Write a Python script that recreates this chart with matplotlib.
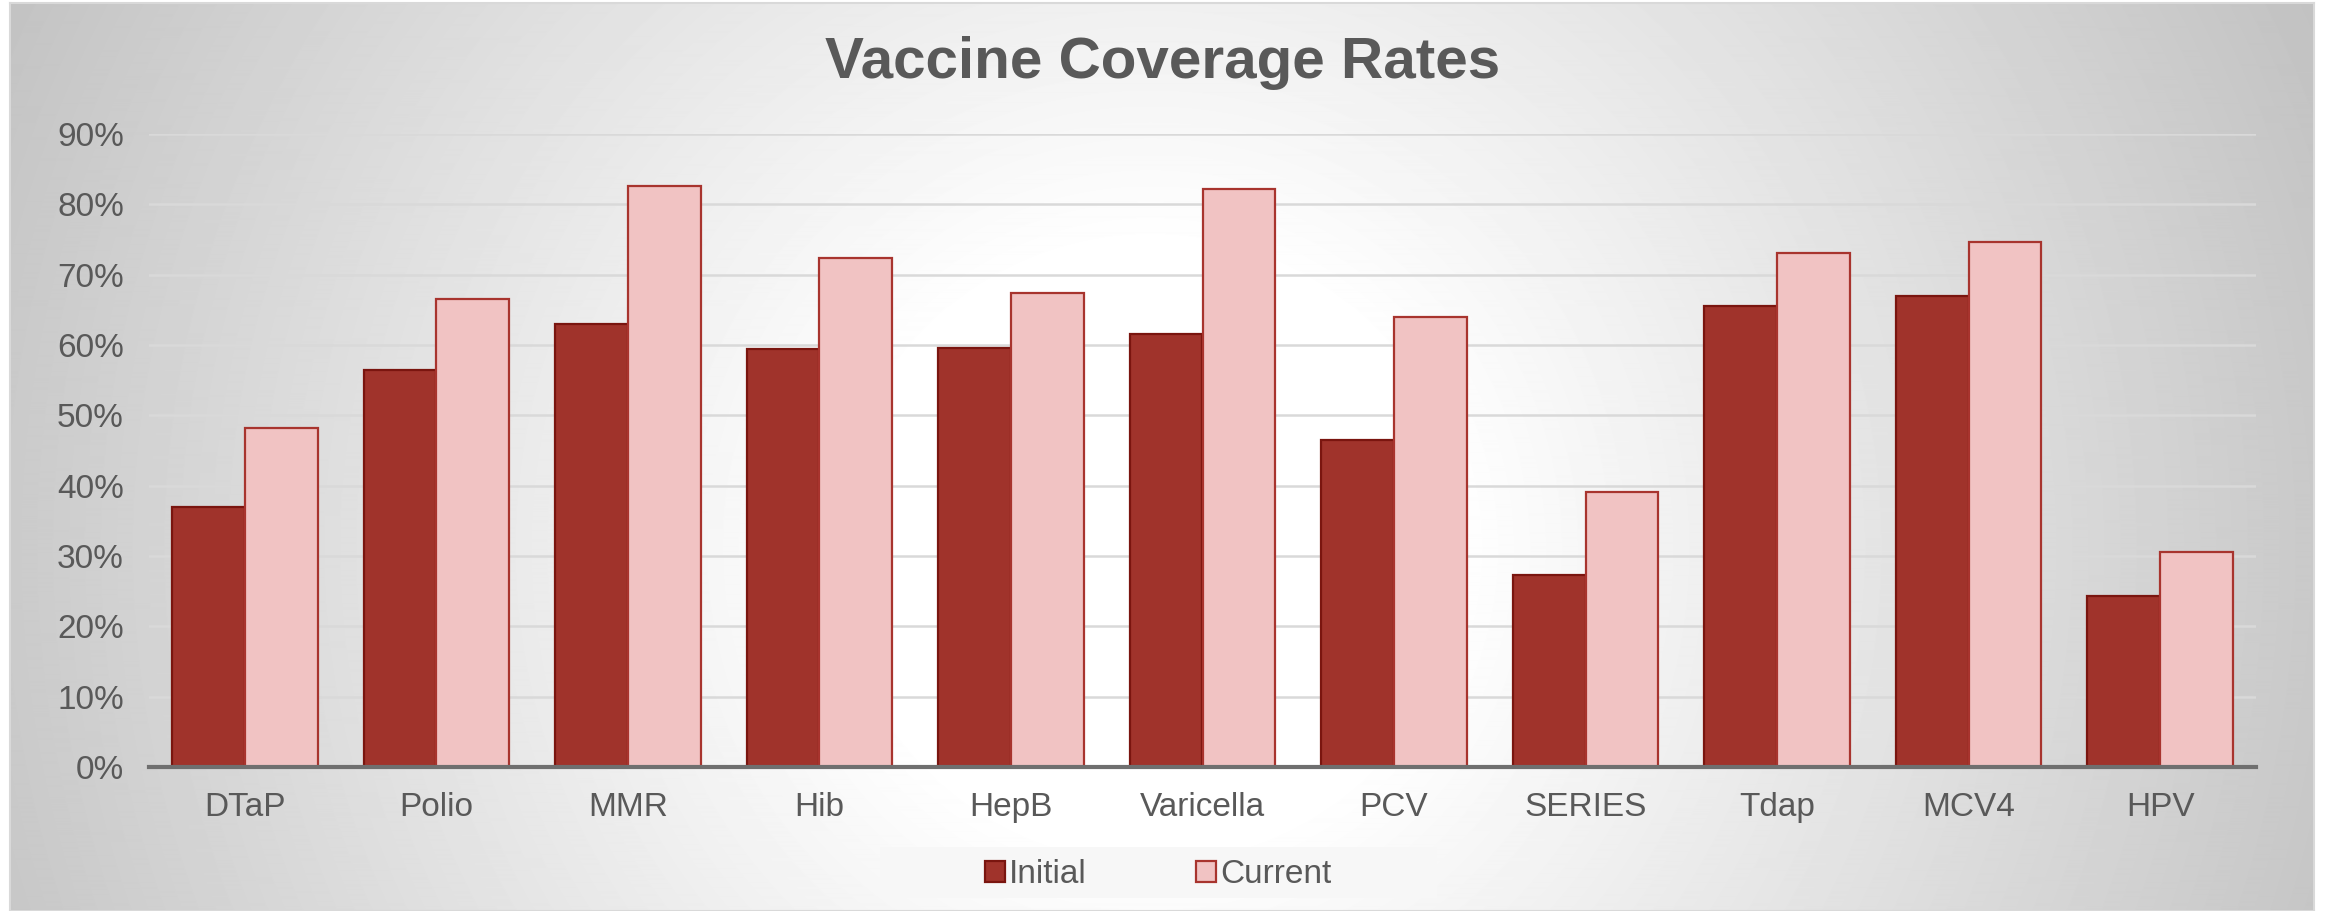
import numpy as np
import matplotlib
matplotlib.use("Agg")
import matplotlib.pyplot as plt
from matplotlib.patches import Rectangle

vaccines = ["DTaP", "Polio", "MMR", "Hib", "HepB", "Varicella", "PCV",
            "SERIES", "Tdap", "MCV4", "HPV"]
# coverage in percent
initial = [37.0, 56.4, 63.0, 59.4, 59.6, 61.5, 46.5, 27.3, 65.5, 67.0, 24.3]
current = [48.2, 66.6, 82.6, 72.3, 67.4, 82.2, 64.0, 39.1, 73.1, 74.6, 30.6]
yticks = [0, 10, 20, 30, 40, 50, 60, 70, 80, 90]

plt.rcParams["font.family"] = ["Liberation Sans", "DejaVu Sans"]
text_col = "#595959"

W, H = 2330, 911
fig = plt.figure(figsize=(W / 100, H / 100), dpi=100)
fig.patch.set_facecolor("white")

# radial grey-to-white background of the chart area
bg = fig.add_axes([10 / W, 0, (2314 - 10) / W, (H - 3) / H], zorder=-10)
yy, xx = np.mgrid[0:H, 0:2304]
r = np.hypot(xx - 0.495 * 2304, yy - 0.6 * H)
shade = 1.0 - 0.24 * np.clip((r - 300) / 980.0, 0, 1)
bg.imshow(shade, cmap="gray", vmin=0, vmax=1, aspect="auto",
          interpolation="bilinear")
bg.set_xticks([])
bg.set_yticks([])
for s in bg.spines.values():
    s.set_color("#d9d9d9")
    s.set_linewidth(1.5)

# main plot
ax = fig.add_axes([149 / W, 144 / H, (2256 - 149) / W, (777 - 144) / H])
ax.patch.set_alpha(0)

x = np.arange(len(vaccines))
w = 0.38
ax.bar(x - w / 2, initial, w, color="#a0332b", edgecolor="#7a150f",
       linewidth=1.6, label="Initial", zorder=3)
ax.bar(x + w / 2, current, w, color="#f1c3c3", edgecolor="#a8342e",
       linewidth=1.6, label="Current", zorder=3)

ax.set_xlim(-0.5, len(vaccines) - 0.5)
ax.set_ylim(0, 90)
ax.set_yticks(yticks)
ax.set_yticklabels([f"{t}%" for t in yticks])
ax.set_xticks(x)
ax.set_xticklabels(vaccines)
ax.tick_params(axis="both", length=0, labelsize=24, labelcolor=text_col)
ax.tick_params(axis="y", pad=18)
ax.tick_params(axis="x", pad=18)

ax.yaxis.grid(True, color="#d9d9d9", linewidth=1.8)
ax.set_axisbelow(True)
for side in ["top", "left", "right"]:
    ax.spines[side].set_visible(False)
ax.spines["bottom"].set_color("#6f6f6f")
ax.spines["bottom"].set_linewidth(3)
ax.spines["bottom"].set_zorder(4)

fig.text(0.499, 1 - 78 / H, "Vaccine Coverage Rates", ha="center",
         va="baseline", fontsize=42, fontweight="bold", color=text_col)

# legend with its light box
fig.patches.append(Rectangle((880 / W, 13 / H), 557 / W, 51 / H,
                             transform=fig.transFigure, facecolor="#f7f7f7",
                             edgecolor="none", zorder=0))
h, l = ax.get_legend_handles_labels()
fig.legend(h, l, loc="center", bbox_to_anchor=(0.497, 0.040), ncol=2,
           frameon=False, fontsize=24, handlelength=0.6, handleheight=0.6,
           handletextpad=0.12, columnspacing=3.3, labelcolor=text_col)

fig.savefig("out.png", dpi=100)
